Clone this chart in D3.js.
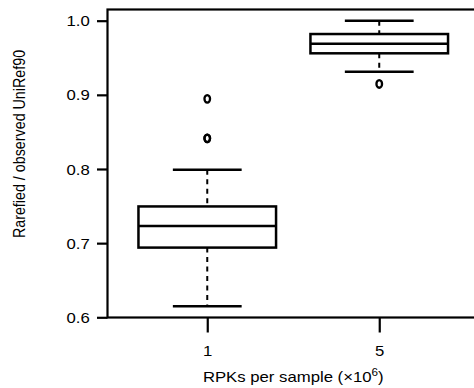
<!DOCTYPE html>
<html>
<head>
<meta charset="utf-8">
<script src="https://cdn.jsdelivr.net/npm/d3@7"></script>
<style>
  html, body { margin: 0; padding: 0; background: #fff; }
  svg { display: block; }
  text { font-family: "Liberation Sans", Arial, sans-serif; fill: #000; }
</style>
</head>
<body>
<svg id="chart" width="474" height="388"></svg>
<script>
// Box-plot summary statistics per sampling depth
const categories = ["1", "5"];
const lowerWhisker = [0.615, 0.931];
const q1 = [0.694, 0.956];
const median = [0.723, 0.969];
const q3 = [0.7495, 0.982];
const upperWhisker = [0.799, 1.000];
const outliers = [[0.8413, 0.8413, 0.8946], [0.9147]];
const yTicks = [0.6, 0.7, 0.8, 0.9, 1.0];

const svg = d3.select("#chart");

const plot = { left: 107.5, top: 9.5, right: 479, bottom: 317.5 };
const fontSize = 14.3;
const stretchX = 1.17;   // text glyphs are drawn slightly wide

// positions 1..n with R-style 4% padding around [0.5, n + 0.5]
const x = d3.scaleLinear().domain([0.42, 2.58]).range([plot.left, plot.right]);
const y = d3.scaleLinear().domain([0.59973, 1.01508]).range([plot.bottom, plot.top]);

const boxHalf = 0.4;
const capHalf = 0.2;

const g = svg.append("g");

categories.forEach((c, i) => {
  const pos = i + 1;
  const cx = x(pos);

  // dashed whiskers
  g.append("line")
    .attr("x1", cx).attr("x2", cx)
    .attr("y1", y(upperWhisker[i])).attr("y2", y(q3[i]))
    .attr("stroke", "#000").attr("stroke-width", 2).attr("stroke-dasharray", "5,4.5");
  g.append("line")
    .attr("x1", cx).attr("x2", cx)
    .attr("y1", y(q1[i])).attr("y2", y(lowerWhisker[i]))
    .attr("stroke", "#000").attr("stroke-width", 2).attr("stroke-dasharray", "5,4.5");

  // whisker caps
  [upperWhisker[i], lowerWhisker[i]].forEach(v => {
    g.append("line")
      .attr("x1", x(pos - capHalf)).attr("x2", x(pos + capHalf))
      .attr("y1", y(v)).attr("y2", y(v))
      .attr("stroke", "#000").attr("stroke-width", 2.5);
  });

  // box
  g.append("rect")
    .attr("x", x(pos - boxHalf))
    .attr("y", y(q3[i]))
    .attr("width", x(pos + boxHalf) - x(pos - boxHalf))
    .attr("height", y(q1[i]) - y(q3[i]))
    .attr("fill", "#fff").attr("stroke", "#000").attr("stroke-width", 2.5);

  // median
  g.append("line")
    .attr("x1", x(pos - boxHalf)).attr("x2", x(pos + boxHalf))
    .attr("y1", y(median[i])).attr("y2", y(median[i]))
    .attr("stroke", "#000").attr("stroke-width", 2.5);

  // outlying points
  outliers[i].forEach(v => {
    g.append("ellipse")
      .attr("cx", cx).attr("cy", y(v))
      .attr("rx", 2.8).attr("ry", 3.8)
      .attr("fill", "none").attr("stroke", "#000").attr("stroke-width", 2.3);
  });
});

// plot frame (right edge lies past the canvas)
svg.append("rect")
  .attr("x", plot.left).attr("y", plot.top)
  .attr("width", plot.right - plot.left).attr("height", plot.bottom - plot.top)
  .attr("fill", "none").attr("stroke", "#000").attr("stroke-width", 2.2);

// y axis
const yAxis = d3.axisLeft(y).tickValues(yTicks).tickFormat(d3.format(".1f")).tickSize(10.5);
const ya = svg.append("g").attr("transform", `translate(${plot.left},0)`).call(yAxis);
ya.select(".domain").remove();
ya.selectAll(".tick line").attr("stroke", "#000").attr("stroke-width", 2.2);
ya.selectAll(".tick text")
  .attr("x", 0).attr("dy", "0.35em")
  .attr("transform", `translate(-17.8,0) scale(${stretchX},1)`)
  .attr("font-size", fontSize).attr("fill", "#000")
  .style("font-family", "'Liberation Sans', Arial, sans-serif");

// x axis
const xAxis = d3.axisBottom(x).tickValues(categories.map((c, i) => i + 1))
  .tickFormat((d, i) => categories[i]).tickSize(15);
const xa = svg.append("g").attr("transform", `translate(0,${plot.bottom})`).call(xAxis);
xa.select(".domain").remove();
xa.selectAll(".tick line").attr("stroke", "#000").attr("stroke-width", 2.2);
xa.selectAll(".tick text")
  .attr("y", 0).attr("dy", 0)
  .attr("transform", `translate(0,38) scale(${stretchX},1)`)
  .attr("font-size", fontSize).attr("fill", "#000")
  .style("font-family", "'Liberation Sans', Arial, sans-serif");

// axis titles
const xt = svg.append("text")
  .attr("transform", `translate(${(x(1) + x(2)) / 2},381.7) scale(${stretchX},1)`)
  .attr("text-anchor", "middle").attr("font-size", fontSize);
xt.append("tspan").text("RPKs per sample (×10");
xt.append("tspan").attr("font-size", 10).attr("dy", -6).text("6");
xt.append("tspan").attr("dy", 6).text(")");

svg.append("text")
  .attr("transform", `translate(25,144) rotate(-90) scale(1,${stretchX})`)
  .attr("text-anchor", "middle").attr("font-size", fontSize)
  .text("Rarefied / observed UniRef90");
</script>
</body>
</html>
